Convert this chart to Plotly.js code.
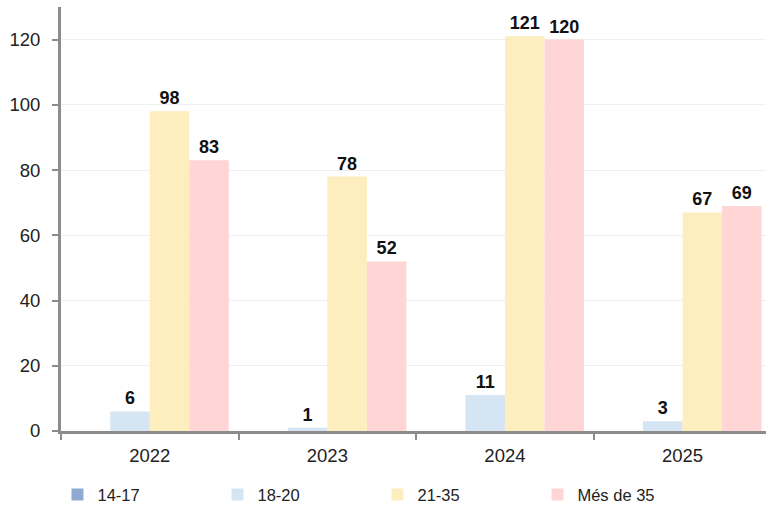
<!DOCTYPE html>
<html>
<head>
<meta charset="utf-8">
<script src="https://cdn.plot.ly/plotly-3.0.1.min.js"></script>
<style>html,body{margin:0;padding:0;background:#fff;}#chart{width:766px;height:508px;}</style>
</head>
<body>
<div id="chart"></div>
<script>
const years = ['2022', '2023', '2024', '2025'];
const seriesNames = ['14-17', '18-20', '21-35', 'Més de 35'];
const v1417 = [0, 0, 0, 0];
const v1820 = [6, 1, 11, 3];
const v2135 = [98, 78, 121, 67];
const vMes35 = [83, 52, 120, 69];
const colors = ['#8EAAD2', '#D5E5F3', '#FDEDBF', '#FFD5D6'];

const allValues = [v1417, v1820, v2135, vMes35];
const traces = allValues.map((vals, i) => ({
  type: 'bar',
  name: seriesNames[i],
  x: years,
  y: vals,
  marker: {color: colors[i]},
  text: vals.map(v => v === 0 ? '' : '<b>' + v + '</b>'),
  textposition: 'outside',
  cliponaxis: false,
  textfont: {family: 'Liberation Sans, Arial, sans-serif', size: 18, color: '#111'},
  hoverinfo: 'x+y+name'
}));

const layout = {
  width: 766,
  height: 508,
  margin: {l: 61, r: 0, t: 7, b: 77},
  paper_bgcolor: '#fff',
  plot_bgcolor: '#fff',
  barmode: 'group',
  bargap: 0.11,
  bargroupgap: 0,
  font: {family: 'Liberation Sans, Arial, sans-serif', size: 17, color: '#222'},
  xaxis: {
    type: 'category',
    range: [-0.5, 3.47],
    showline: true,
    linecolor: '#8c8c8c',
    linewidth: 3,
    ticks: 'outside',
    tickson: 'boundaries',
    ticklen: 6,
    tickwidth: 2,
    tickcolor: '#8c8c8c',
    ticklabelstandoff: 6,
    showgrid: false,
    tickfont: {size: 18.5, color: '#222'}
  },
  yaxis: {
    range: [0, 130],
    tickvals: [0, 20, 40, 60, 80, 100, 120],
    showline: true,
    linecolor: '#8c8c8c',
    linewidth: 3,
    ticks: 'outside',
    ticklen: 6,
    tickwidth: 2,
    tickcolor: '#8c8c8c',
    ticklabelstandoff: 8,
    showgrid: true,
    gridcolor: '#efefef',
    gridwidth: 1,
    zeroline: false,
    tickfont: {size: 18.5, color: '#222'}
  },
  showlegend: true,
  legend: {
    orientation: 'h',
    xref: 'container',
    yref: 'container',
    x: 0.075,
    xanchor: 'left',
    y: 0.026,
    yanchor: 'middle',
    entrywidth: 115,
    entrywidthmode: 'pixels',
    itemwidth: 30,
    font: {size: 16.5, color: '#222'},
    traceorder: 'normal'
  }
};

Plotly.newPlot('chart', traces, layout, {displayModeBar: false, staticPlot: true});
</script>
</body>
</html>
